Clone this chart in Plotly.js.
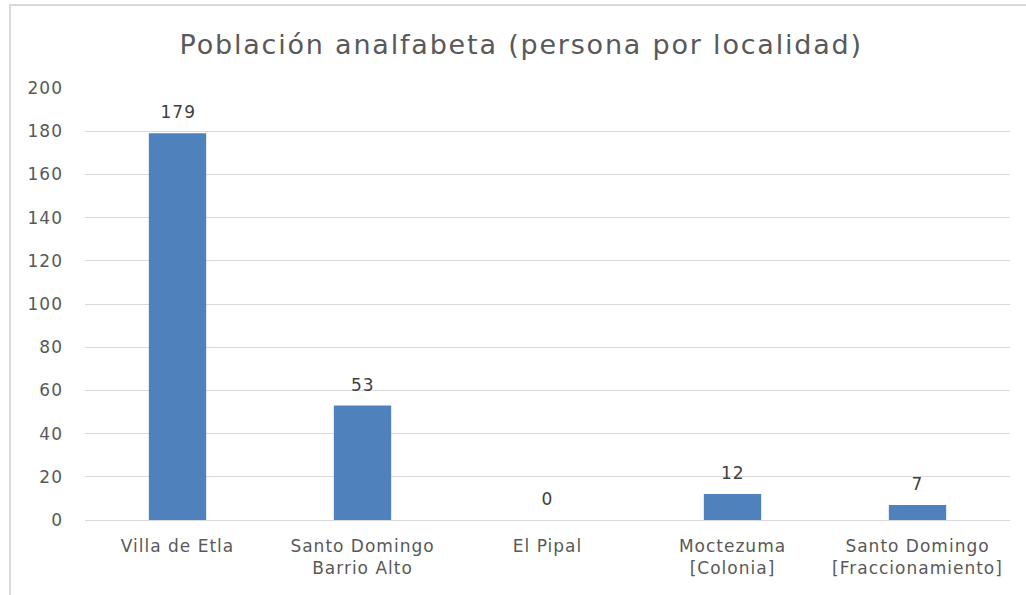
<!DOCTYPE html>
<html><head><meta charset="utf-8">
<script src="https://cdn.plot.ly/plotly-3.0.1.min.js"></script>
<style>
html,body{margin:0;padding:0;background:#fff;}
#frame{position:absolute;left:9px;top:4px;width:1030px;height:600px;border:2px solid #d9d9d9;box-sizing:border-box;pointer-events:none;z-index:5;}
#chart{position:absolute;left:0;top:0;width:1026px;height:595px;}
#chart svg text{letter-spacing:1px;}
#chart svg text.gtitle{letter-spacing:1.8px;}
</style></head>
<body>
<div id="chart"></div>
<div id="frame"></div>
<script>
const categories = ["Villa de Etla", "Santo Domingo<br>Barrio Alto", "El Pipal", "Moctezuma<br>[Colonia]", "Santo Domingo<br>[Fraccionamiento]"];
const values = [179, 53, 0, 12, 7];
const tickVals = [0, 20, 40, 60, 80, 100, 120, 140, 160, 180, 200];

const font = "DejaVu Sans, sans-serif";
const labels = values.map((v, i) => ({
  x: categories[i], y: v, xref: "x", yref: "y",
  text: String(v), showarrow: false, yanchor: "bottom", yshift: 9,
  font: {family: font, size: 17, color: "#404040"}
}));
Plotly.newPlot("chart", [{
  type: "bar",
  x: categories,
  y: values,
  width: 0.31,
  marker: {color: "#4F81BD"},
  hoverinfo: "x+y"
}], {
  width: 1026, height: 595,
  margin: {l: 85, r: 16, t: 88, b: 75},
  paper_bgcolor: "#ffffff",
  plot_bgcolor: "#ffffff",
  title: {text: "Población analfabeta (persona por localidad)", x: 0.508, xanchor: "center", y: 0.925, yanchor: "middle",
          font: {family: font, size: 27, color: "#595959"}},
  xaxis: {showgrid: false, showline: false, zeroline: false, ticks: "",
          ticklabelstandoff: 14,
          tickfont: {family: font, size: 17, color: "#595959"}},
  yaxis: {range: [0, 200], tickvals: tickVals, showgrid: true, gridcolor: "#d9d9d9", gridwidth: 1,
          zeroline: true, zerolinecolor: "#d9d9d9", zerolinewidth: 1, showline: false, ticks: "",
          ticklabelstandoff: 21,
          tickfont: {family: font, size: 17, color: "#595959"}},
  annotations: labels,
  showlegend: false,
  bargap: 0.69
}, {displayModeBar: false, staticPlot: true});
</script>
</body></html>
